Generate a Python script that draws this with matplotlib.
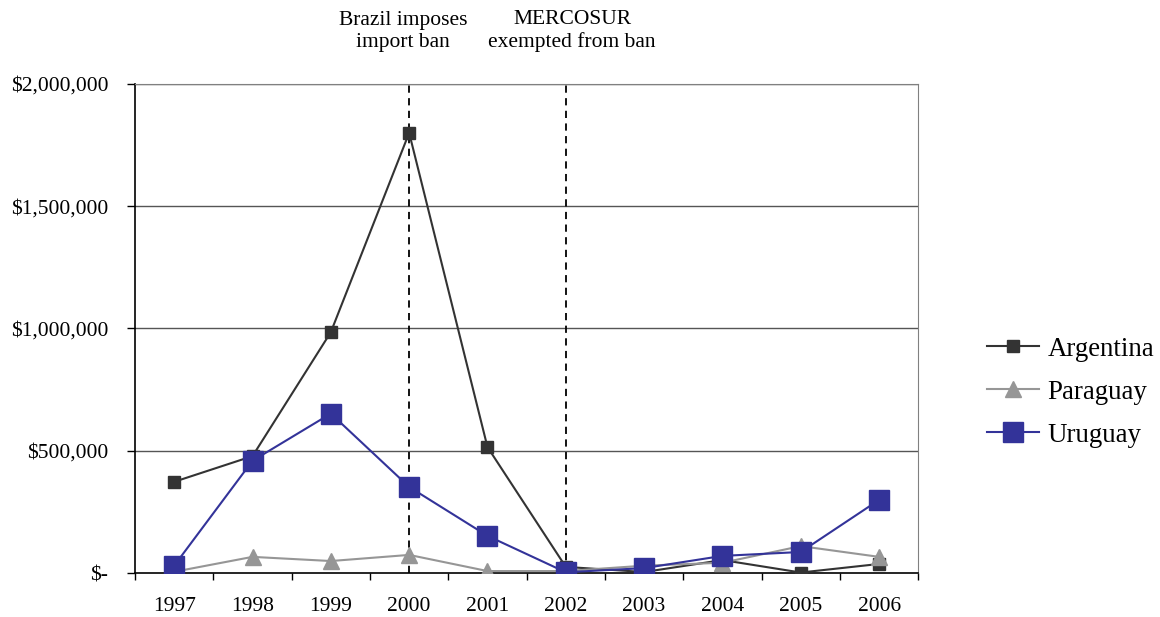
import numpy as np
import matplotlib.pyplot as plt
from matplotlib.ticker import FixedLocator

plt.rcParams['font.family'] = ['Liberation Serif', 'DejaVu Serif']

years = ['1997', '1998', '1999', '2000', '2001', '2002', '2003', '2004', '2005', '2006']
argentina = [373000, 478000, 985000, 1800000, 515000, 25000, 4000, 53000, 2000, 37000]
paraguay = [5000, 66000, 49000, 74000, 8000, 8000, 30000, 42000, 110000, 66000]
uruguay = [30000, 459000, 652000, 352000, 152000, 3000, 20000, 70000, 86000, 299000]

events = [('2000', 'Brazil imposes\nimport ban', -0.08),
          ('2002', 'MERCOSUR\nexempted from ban', 0.08)]

yticks = [0, 500000, 1000000, 1500000, 2000000]
ylabels = ['$-', '$500,000', '$1,000,000', '$1,500,000', '$2,000,000']

fig = plt.figure(figsize=(11.6, 6.17), dpi=100)
ax = fig.add_axes([0.1164, 0.0713, 0.6752, 0.7926])

x = np.arange(len(years))
ax.plot(x, argentina, color='#333333', lw=1.5, marker='s', ms=9, label='Argentina', zorder=3)
ax.plot(x, paraguay, color='#969696', lw=1.5, marker='^', ms=11, label='Paraguay', zorder=3)
ax.plot(x, uruguay, color='#333399', lw=1.5, marker='s', ms=15, label='Uruguay', zorder=4)

ax.set_xlim(-0.5, len(years) - 0.5)
ax.set_ylim(0, 2000000)
ax.set_yticks(yticks)
ax.set_yticklabels(ylabels, fontsize=15.5)
ax.set_xticks(x)
ax.set_xticklabels(years, fontsize=15.5)
ax.xaxis.set_minor_locator(FixedLocator(np.arange(-0.5, len(years), 1)))
ax.tick_params(axis='x', which='major', length=0, pad=17.5)
ax.tick_params(axis='x', which='minor', length=5, width=1, direction='out')
ax.tick_params(axis='y', length=5.8, width=1, direction='out', pad=13.5)

for yv in yticks[1:]:
    ax.axhline(yv, color='#555555', lw=1, zorder=1)

ax.spines['left'].set_color('black')
ax.spines['bottom'].set_color('black')
ax.spines['left'].set_linewidth(1.2)
ax.spines['bottom'].set_linewidth(1.2)
ax.spines['right'].set_color('#808080')
ax.spines['top'].set_color('#808080')

for yr, text, dx in events:
    xi = years.index(yr)
    ax.axvline(xi, color='black', ls=(0, (4, 3)), lw=1.3, zorder=2)
    ax.text(xi + dx, 2152000, text, ha='center', va='baseline', fontsize=15.5,
            linespacing=1.2)

ax.legend(loc='center left', bbox_to_anchor=(1.088, 0.37), frameon=False,
          fontsize=19.4, handlelength=1.93, labelspacing=0.67, handletextpad=0.3,
          borderpad=0, borderaxespad=0)

fig.savefig('out.png', dpi=100)
